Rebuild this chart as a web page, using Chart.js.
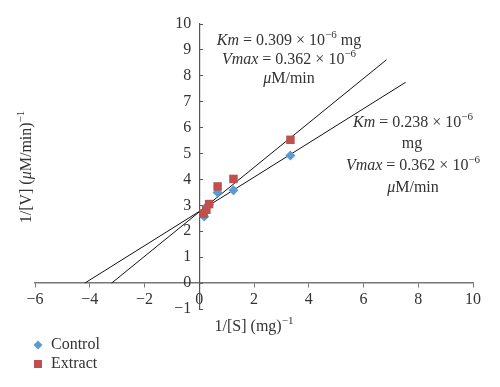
<!DOCTYPE html>
<html>
<head>
<meta charset="utf-8">
<script src="https://cdn.jsdelivr.net/npm/chart.js@4.4.1/dist/chart.umd.min.js"></script>
<style>
  html, body { margin: 0; padding: 0; background: #fff; }
  #wrap { width: 500px; height: 387px; position: relative; }
</style>
</head>
<body>
<div id="wrap"><canvas id="c" width="500" height="387"></canvas></div>
<script>
// ---- data ----
const controlX = [0.18, 0.27, 0.36, 0.67, 1.25, 3.33];
const controlY = [2.57, 2.96, 3.02, 3.50, 3.58, 4.92];
const extractX = [0.16, 0.26, 0.36, 0.67, 1.25, 3.33];
const extractY = [2.68, 2.83, 3.05, 3.73, 4.02, 5.53];
// trend lines (end points)
const extractLineX = [-3.2, 6.84];
const extractLineY = [0, 8.62];
const controlLineX = [-4.18, 7.54];
const controlLineY = [0, 7.75];
const xRange = [-6, 10];
const yRange = [-1, 10];
const seriesNames = ['Control', 'Extract'];

const BLUE = '#5B9BD5';
const RED = '#C0504D';
const TXT = '#333333';
const SERIF = '"Liberation Serif", "DejaVu Serif", serif';

const pts = (xs, ys) => xs.map((x, i) => ({x: x, y: ys[i]}));
const minus = v => String(v).replace('-', '−');

function drawRich(ctx, segs, cx, cy, size) {
  let total = 0;
  const parts = segs.map(s => {
    const fs = s[2] ? Math.round(size * 0.68) : size;
    const font = (s[1] ? 'italic ' : '') + fs + 'px ' + SERIF;
    ctx.font = font;
    const w = ctx.measureText(s[0]).width;
    total += w;
    return {t: s[0], font: font, w: w, sup: s[2]};
  });
  let x = cx - total / 2;
  ctx.textBaseline = 'middle';
  ctx.textAlign = 'left';
  parts.forEach(p => {
    ctx.font = p.font;
    ctx.fillText(p.t, x, p.sup ? cy - size * 0.38 : cy);
    x += p.w;
  });
}

const textPlugin = {
  id: 'texts',
  afterDraw(chart) {
    const ctx = chart.ctx;
    ctx.save();
    ctx.fillStyle = TXT;
    const S = 16;
    drawRich(ctx, [['Km', true], [' = 0.309 × 10', false], ['−6', false, true], [' mg', false]], 289, 41, S);
    drawRich(ctx, [['Vmax', true], [' = 0.362 × 10', false], ['−6', false, true]], 289, 60, S);
    drawRich(ctx, [['μ', true], ['M/min', false]], 289, 79, S);
    drawRich(ctx, [['Km', true], [' = 0.238 × 10', false], ['−6', false, true]], 413, 123, S);
    drawRich(ctx, [['mg', false]], 412, 144, S);
    drawRich(ctx, [['Vmax', true], [' = 0.362 × 10', false], ['−6', false, true]], 413, 166, S);
    drawRich(ctx, [['μ', true], ['M/min', false]], 413, 188, S);
    drawRich(ctx, [['1/[S] (mg)', false], ['−1', false, true]], 254, 327, S);
    ctx.save();
    ctx.translate(27, 167);
    ctx.rotate(-Math.PI / 2);
    drawRich(ctx, [['1/[V] (', false], ['μ', true], ['M/min)', false], ['−1', false, true]], 0, 0, S);
    ctx.restore();
    const ds = chart.data.datasets;
    [[0, 345], [1, 364]].forEach(([i, y]) => {
      const d = ds[i];
      ctx.fillStyle = d.backgroundColor;
      if (d.pointStyle === 'rectRot') {
        ctx.beginPath();
        ctx.moveTo(38, y - 4.5); ctx.lineTo(42.5, y); ctx.lineTo(38, y + 4.5); ctx.lineTo(33.5, y);
        ctx.closePath(); ctx.fill();
      } else {
        ctx.fillRect(34, y - 4, 8, 8);
      }
      ctx.fillStyle = TXT;
      ctx.font = S + 'px ' + SERIF;
      ctx.textAlign = 'left';
      ctx.textBaseline = 'middle';
      ctx.fillText(seriesNames[i], 51, y);
    });
    ctx.restore();
  }
};

new Chart(document.getElementById('c'), {
  type: 'scatter',
  data: {
    datasets: [
      { label: seriesNames[0], data: pts(controlX, controlY), pointStyle: 'rectRot',
        backgroundColor: BLUE, borderColor: BLUE, pointRadius: 5, borderWidth: 0, order: 1 },
      { label: seriesNames[1], data: pts(extractX, extractY), pointStyle: 'rect',
        backgroundColor: RED, borderColor: RED, pointRadius: 6, borderWidth: 0, order: 0 },
      { label: 'Extract trend', data: pts(extractLineX, extractLineY), showLine: true,
        borderColor: '#111', borderWidth: 1, pointRadius: 0, order: 2 },
      { label: 'Control trend', data: pts(controlLineX, controlLineY), showLine: true,
        borderColor: '#111', borderWidth: 1, pointRadius: 0, order: 2 }
    ]
  },
  options: {
    responsive: false,
    animation: false,
    devicePixelRatio: 1,
    layout: { padding: { left: 35, right: 27, top: 24, bottom: 78 } },
    plugins: { legend: { display: false }, tooltip: { enabled: false } },
    scales: {
      x: {
        type: 'linear', min: xRange[0], max: xRange[1], position: { y: 0 },
        ticks: { stepSize: 2, color: TXT, font: { family: SERIF, size: 16 }, padding: 3,
                 callback: v => minus(v) },
        grid: { drawOnChartArea: false, tickLength: 4, color: '#777' },
        border: { color: '#777', width: 1.5 }
      },
      y: {
        type: 'linear', min: yRange[0], max: yRange[1], position: { x: 0 },
        ticks: { stepSize: 1, color: TXT, font: { family: SERIF, size: 16 }, padding: 0,
                 callback: v => minus(v) + '\u2002' },
        grid: { drawOnChartArea: false, tickLength: -4, color: '#555' },
        border: { color: '#555', width: 1.2 }
      }
    }
  },
  plugins: [textPlugin]
});
</script>
</body>
</html>
